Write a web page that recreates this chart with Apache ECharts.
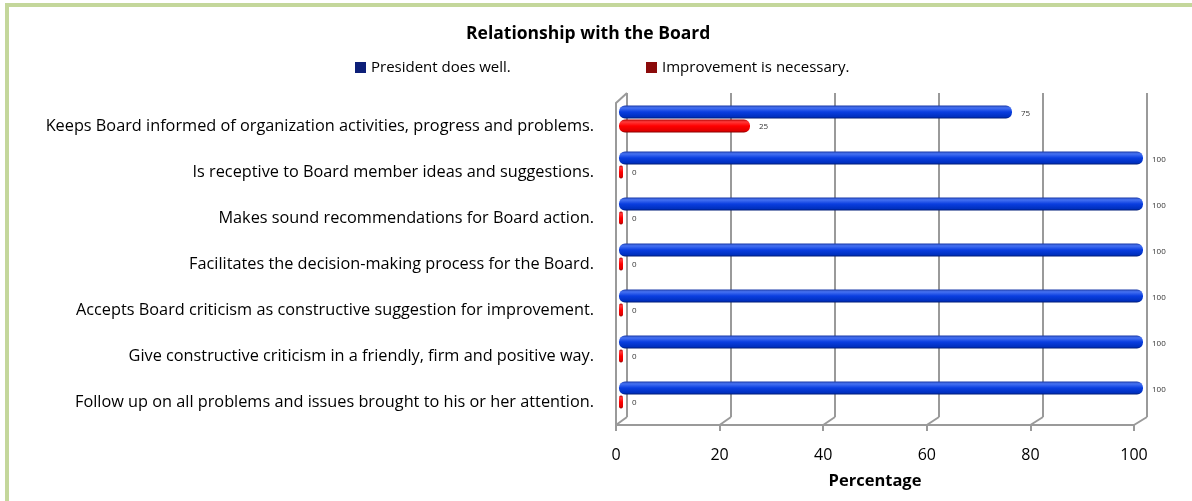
<!DOCTYPE html>
<html>
<head>
<meta charset="utf-8">
<script src="https://cdn.jsdelivr.net/npm/echarts@6/dist/echarts.min.js"></script>
<style>
  html, body { margin: 0; padding: 0; background: #fff; }
  #chart { width: 1192px; height: 501px; }
</style>
</head>
<body>
<div id="chart"></div>
<script>
// data
const categories = [
  'Keeps Board informed of organization activities, progress and problems.',
  'Is receptive to Board member ideas and suggestions.',
  'Makes sound recommendations for Board action.',
  'Facilitates the decision-making process for the Board.',
  'Accepts Board criticism as constructive suggestion for improvement.',
  'Give constructive criticism in a friendly, firm and positive way.',
  'Follow up on all problems and issues brought to his or her attention.'
]
const doesWell = [75, 100, 100, 100, 100, 100, 100]
const needsImprovement = [25, 0, 0, 0, 0, 0, 0]
const xTicks = [0, 20, 40, 60, 80, 100]

const font = '"Open Sans", "Liberation Sans", sans-serif'
const gridGray = '#9a9a9a'

const blueFill = new echarts.graphic.LinearGradient(0, 0, 0, 1, [
  { offset: 0, color: '#1a3aa8' },
  { offset: 0.18, color: '#4672f2' },
  { offset: 0.5, color: '#0a3ee0' },
  { offset: 0.85, color: '#0030c0' },
  { offset: 1, color: '#001c78' }
])
const redFill = new echarts.graphic.LinearGradient(0, 0, 0, 1, [
  { offset: 0, color: '#b00000' },
  { offset: 0.18, color: '#ff3a3a' },
  { offset: 0.5, color: '#ff0000' },
  { offset: 0.85, color: '#e00000' },
  { offset: 1, color: '#8a0000' }
])

const myChart = echarts.init(document.getElementById('chart'))

myChart.setOption({
  animation: false,
  textStyle: { fontFamily: font },
  title: {
    text: 'Relationship with the Board',
    left: 461,
    top: 20,
    textStyle: { fontSize: 17.5, fontWeight: 'bold', color: '#000', fontFamily: font }
  },
  legend: [
    {
      left: 350, top: 55,
      itemWidth: 11, itemHeight: 11, icon: 'rect',
      textStyle: { fontSize: 15, color: '#000' },
      data: [{ name: 'President does well.', itemStyle: { color: '#0d1f78' } }]
    },
    {
      left: 641, top: 55,
      itemWidth: 11, itemHeight: 11, icon: 'rect',
      textStyle: { fontSize: 15, color: '#000' },
      data: [{ name: 'Improvement is necessary.', itemStyle: { color: '#8b0a0a' } }]
    }
  ],
  grid: [
    // back wall (grid lines)
    { left: 627, top: 93, width: 520, height: 324 },
    // bars
    { left: 619, top: 96, width: 524, height: 322 },
    // front axes
    { left: 616, top: 103, width: 518, height: 322 }
  ],
  xAxis: [
    {
      gridIndex: 0, type: 'value', min: 0, max: 100, interval: 20,
      axisLine: { show: false }, axisTick: { show: false }, axisLabel: { show: false },
      splitLine: { show: true, lineStyle: { color: gridGray, width: 2 } }
    },
    {
      gridIndex: 1, type: 'value', min: 0, max: 100, show: false
    },
    {
      gridIndex: 2, type: 'value', min: 0, max: 100, interval: 20,
      axisLine: { show: true, lineStyle: { color: gridGray, width: 2 } },
      axisTick: { show: true, length: 6, lineStyle: { color: gridGray, width: 2 } },
      axisLabel: { fontSize: 16, color: '#000', margin: 22 },
      splitLine: { show: false },
      name: 'Percentage',
      nameLocation: 'middle',
      nameGap: 48,
      nameTextStyle: { fontSize: 16.5, fontWeight: 'bold', color: '#000' }
    }
  ],
  yAxis: [
    { gridIndex: 0, type: 'value', show: false },
    { gridIndex: 1, type: 'category', inverse: true, data: categories, show: false },
    {
      gridIndex: 2, type: 'category', inverse: true, data: categories,
      axisLine: { show: true, lineStyle: { color: gridGray, width: 2 } },
      axisTick: { show: false },
      axisLabel: { fontSize: 16.3, color: '#000', margin: 22 }
    }
  ],
  series: [
    {
      name: 'President does well.',
      type: 'bar',
      xAxisIndex: 1, yAxisIndex: 1,
      data: doesWell,
      barWidth: 13,
      barGap: '8%',
      itemStyle: { color: blueFill, borderRadius: 6 },
      label: { show: true, position: 'right', distance: 9, fontSize: 8, color: '#333', offset: [0, 2] }
    },
    {
      name: 'Improvement is necessary.',
      type: 'bar',
      xAxisIndex: 1, yAxisIndex: 1,
      data: needsImprovement,
      barWidth: 13,
      barMinHeight: 4,
      itemStyle: { color: redFill, borderRadius: 6 },
      label: { show: true, position: 'right', distance: 9, fontSize: 8, color: '#333', offset: [0, 1] }
    }
  ]
})

// 3D-style floor connectors between the front axis and the back wall
const lines = []
const floorFront = 425, floorBack = 417
xTicks.forEach(v => {
  const fx = myChart.convertToPixel({ xAxisIndex: 2 }, v)
  const bx = myChart.convertToPixel({ xAxisIndex: 0 }, v)
  lines.push({
    type: 'line', silent: true,
    shape: { x1: fx, y1: floorFront, x2: bx, y2: floorBack },
    style: { stroke: gridGray, lineWidth: 2 }
  })
})
const leftFront = myChart.convertToPixel({ xAxisIndex: 2 }, 0)
const leftBack = myChart.convertToPixel({ xAxisIndex: 0 }, 0)
lines.push({
  type: 'line', silent: true,
  shape: { x1: leftFront, y1: 103, x2: leftBack, y2: 93 },
  style: { stroke: gridGray, lineWidth: 2 }
})
lines.push({
  type: 'line', silent: true,
  shape: { x1: leftFront, y1: 103, x2: leftFront, y2: floorFront },
  style: { stroke: gridGray, lineWidth: 2 }
})
// outer frame
lines.push({
  type: 'rect', silent: true, z: 100,
  shape: { x: 7, y: 5, width: 1200, height: 520 },
  style: { fill: 'none', stroke: '#c4d79b', lineWidth: 4 }
})
myChart.setOption({ graphic: lines })
</script>
</body>
</html>
